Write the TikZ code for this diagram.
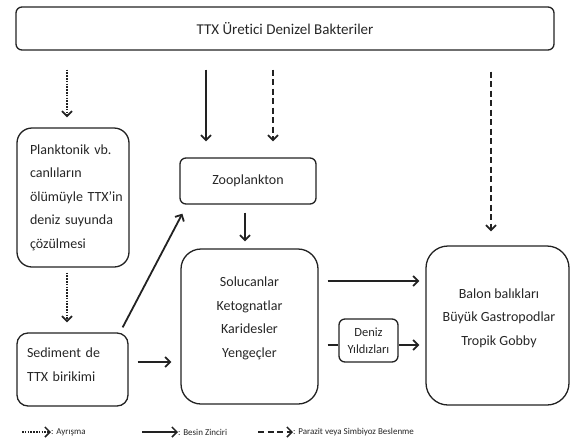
\documentclass[tikz,border=0pt]{standalone}
\usepackage{fontspec}
\setmainfont{Carlito}[Ligatures=NoCommon]
\usetikzlibrary{arrows.meta}
\definecolor{linec}{HTML}{222222}
\definecolor{textc}{HTML}{262626}
\begin{document}
\begin{tikzpicture}[x=1pt,y=-1pt,
  box/.style={draw=linec, line width=1.3pt, rounded corners=#1, inner sep=0pt, text=textc},
  box/.default=6pt,
  bigtxt/.style={font=\fontsize{14}{23.5}\selectfont, text=textc, inner sep=0pt},
  toptxt/.style={font=\fontsize{15}{18}\selectfont},
  smalltxt/.style={font=\fontsize{12.5}{17}\selectfont, align=center},
  legtxt/.style={font=\fontsize{9}{10}\selectfont, text=textc, inner sep=0pt, anchor=west},
  arr/.style={draw=linec, line width=1.8pt, -{Straight Barb[length=5pt,width=10pt]}},
  plainline/.style={draw=linec, line width=1.8pt},
  dotarr/.style={arr, dash pattern=on 1.6pt off 1.2pt},
  dasharr/.style={arr, dash pattern=on 6pt off 3.5pt},
]
\useasboundingbox (0,0) rectangle (572,445);

% boxes
\node[box=6pt, minimum width=538pt, minimum height=43pt, toptxt] (top) at (285,28.5) {TTX Üretici Denizel Bakteriler};
\node[box=15pt, minimum width=112pt, minimum height=139pt] (plank) at (73,197.5) {};
\node[bigtxt, text width=94pt, align=left] (plankt) at (77,197.5)
  {Planktonik vb.\\canlıların\\ölümüyle TTX’in\\deniz suyunda\\çözülmesi};
\node[box=6pt, minimum width=136pt, minimum height=46pt, bigtxt] (zoo) at (248,181) {Zooplankton};
\node[box=20pt, minimum width=137pt, minimum height=155pt] (sol) at (249.5,326.5) {};
\node[bigtxt, align=center] (solt) at (249.5,318.5) {Solucanlar\\Ketognatlar\\Karidesler\\Yengeçler};
\node[box=11pt, minimum width=111pt, minimum height=73pt] (sed) at (72.5,369.5) {};
\node[bigtxt, text width=94pt, align=left] (sedt) at (74,364.5) {Sediment de\\TTX birikimi};
\node[box=6pt, minimum width=59pt, minimum height=43pt, smalltxt] (deniz) at (368.5,340.5) {Deniz\\Yıldızları};
\node[box=22pt, minimum width=143pt, minimum height=159pt] (balon) at (497.5,325.5) {};
\node[bigtxt, align=center] (balont) at (499,318) {Balon balıkları\\Büyük Gastropodlar\\Tropik Gobby};

% arrows from the top box
\draw[dotarr, shorten <=19pt, shorten >=10pt] ([xshift=-6pt]plank.north |- top.south) -- ([xshift=-6pt]plank.north);
\draw[arr, shorten <=19pt, shorten >=16pt] ([xshift=-42pt]zoo.north |- top.south) -- ([xshift=-42pt]zoo.north);
\draw[dasharr, shorten <=19pt, shorten >=16pt] ([xshift=25pt]zoo.north |- top.south) -- ([xshift=25pt]zoo.north);
\draw[dasharr, shorten <=21pt, shorten >=14pt] ([xshift=-6.5pt]balon.north |- top.south) -- ([xshift=-6.5pt]balon.north);

% internal arrows
\draw[arr, shorten <=8pt, shorten >=7pt] ([xshift=-3pt]zoo.south) -- ([xshift=-3pt]zoo.south |- sol.north);
\draw[dotarr, shorten <=5pt, shorten >=10pt] ([xshift=-6pt]plank.south) -- ([xshift=-6pt]plank.south |- sed.north);
\draw[arr] ([shift={(-6,-5)}]sed.north east) -- ([shift={(3,9)}]zoo.south west);
\draw[arr, shorten <=9pt, shorten >=9pt] ([shift={(0,-7.5)}]sed.east) -- ([shift={(0,-7.5)}]sed.east -| sol.west);
\draw[arr, shorten <=9pt, shorten >=6pt] (sol.east |- 0,281) -- (balon.west |- 0,281);
\draw[plainline, shorten <=9pt] ([yshift=-4.5pt]deniz.west -| sol.east) -- ([yshift=-4.5pt]deniz.west);
\draw[arr, shorten >=6pt] ([yshift=-4.5pt]deniz.east) -- ([yshift=-4.5pt]deniz.east -| balon.west);

% legend
\node[legtxt] (l1) at (51,432) {: Ayrışma};
\node[legtxt] (l2) at (178,432) {: Besin Zinciri};
\node[legtxt] (l3) at (293,432) {: Parazit veya Simbiyoz Beslenme};
\coordinate (l1s) at (22,432);
\coordinate (l2s) at (142,432);
\coordinate (l3s) at (258,432);
\draw[dotarr, line width=1.5pt] (l1s) -- (l1.west);
\draw[arr, line width=1.5pt] (l2s) -- (l2.west);
\draw[dasharr, line width=1.5pt] (l3s) -- (l3.west);
\end{tikzpicture}
\end{document}
